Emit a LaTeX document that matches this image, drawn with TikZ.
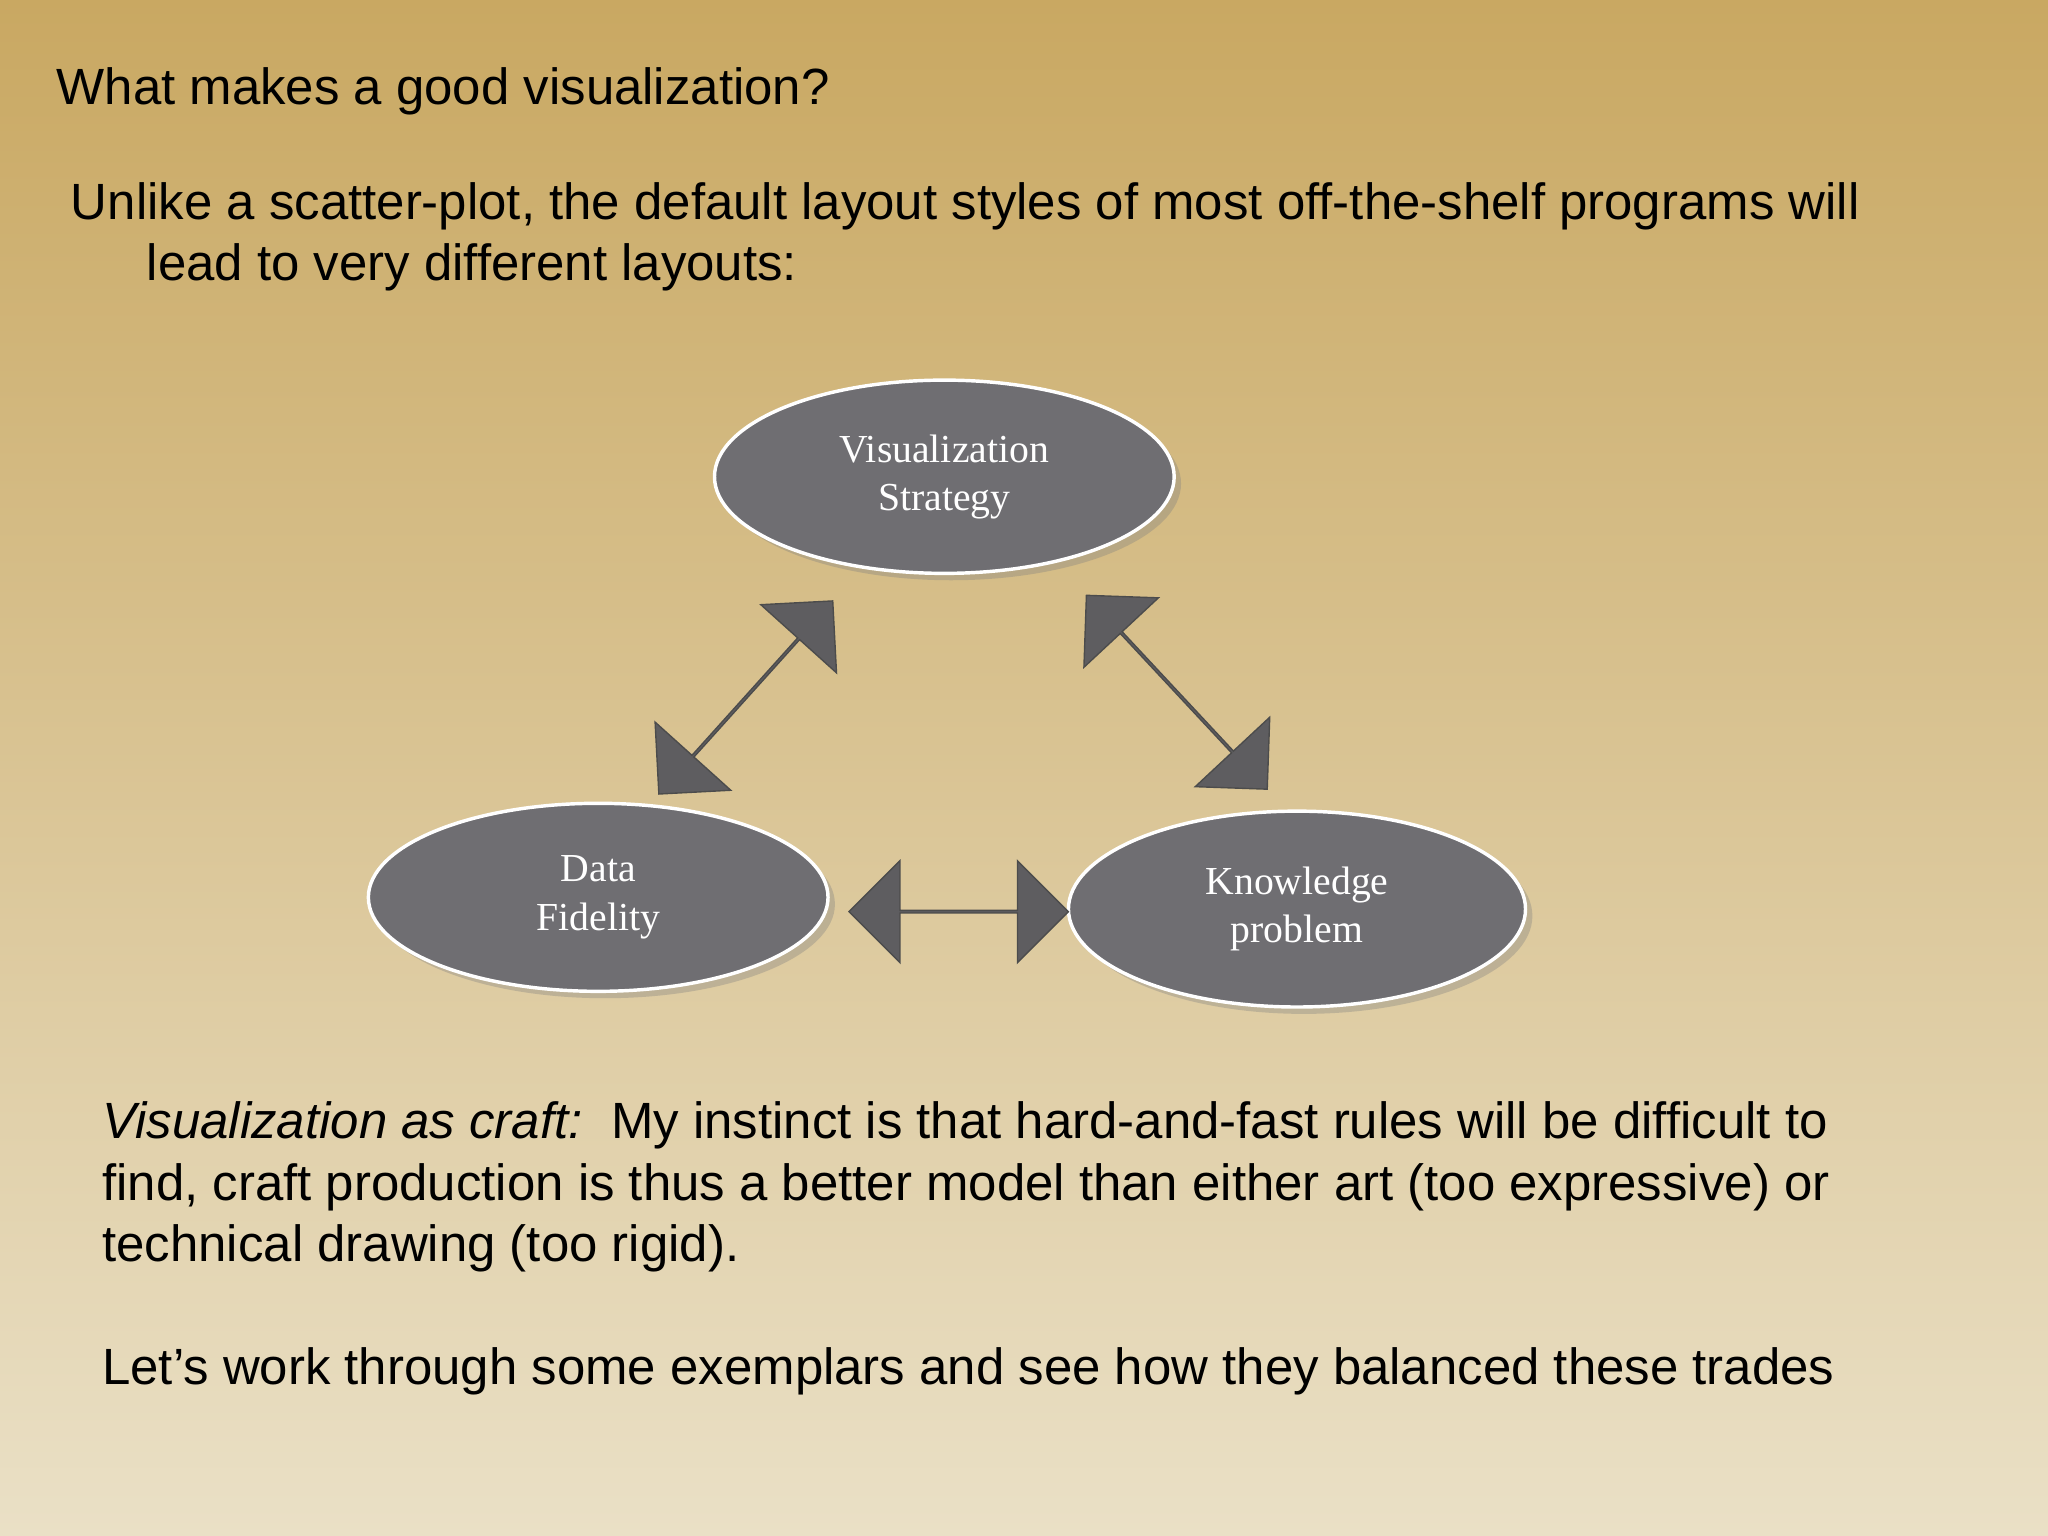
\documentclass[tikz,border=0pt]{standalone}
\usepackage{fontspec}
\setmainfont{Liberation Sans}
\newfontfamily\serifx{Liberation Serif}
\usetikzlibrary{shapes.geometric,shapes.arrows,shadows}
\definecolor{bgtop}{HTML}{C9A862}
\definecolor{bgbot}{HTML}{EAE0C6}
\definecolor{ellfill}{HTML}{6F6E72}
\definecolor{arrfill}{HTML}{5E5D60}
\tikzset{
  ell/.style={ellipse, fill=ellfill, draw=white, line width=1.5pt, text=white, inner sep=0,
    font=\serifx\fontsize{17.3}{21}\selectfont, align=center,
    drop shadow={opacity=0.35, shadow xshift=3pt, shadow yshift=-3pt}},
  darr/.style={double arrow, fill=arrfill, draw=black!70, line width=0.6pt, inner sep=0,
    minimum height=#1, minimum width=1.56cm, double arrow head extend=0.4cm},
  body/.style={anchor=base west, font=\fontsize{22.2}{26}\selectfont, inner sep=0}
}
\begin{document}
\begin{tikzpicture}[x=0.02cm,y=-0.02cm]
\shade[top color=bgtop, bottom color=bgbot] (0,0) rectangle (1568,1176);
\useasboundingbox (0,0) rectangle (1568,1176);
\node[body] (t) at (43,80) {What makes a good visualization?};
\node[body] (l1) at (54,168) {Unlike a scatter-plot, the default layout styles of most off-the-shelf programs will};
\node[body] (l2) at (112,215) {lead to very different layouts:};
\node[ell, minimum width=7.04cm, minimum height=2.96cm] (vs) at (723,365) {Visualization\\Strategy};
\node[ell, minimum width=7.04cm, minimum height=2.88cm] (df) at (458,687) {Data\\Fidelity};
\node[ell, minimum width=7.0cm, minimum height=3.0cm] (kp) at (993,696) {Knowledge\\problem};
\node[darr=3.98cm, rotate=48] (a1) at (571,534) {};
\node[darr=4.06cm, rotate=-47] (a2) at (901,530) {};
\node[darr=3.36cm] (a3) at (734,698) {};
\node[body] (p1) at (78,872) {\textit{Visualization as craft:}\ \ My instinct is that hard-and-fast rules will be difficult to};
\node[body] (p2) at (78,919) {find, craft production is thus a better model than either art (too expressive) or};
\node[body] (p3) at (78,966) {technical drawing (too rigid).};
\node[body] (p4) at (78,1060) {Let’s work through some exemplars and see how they balanced these trades};
\end{tikzpicture}
\end{document}
